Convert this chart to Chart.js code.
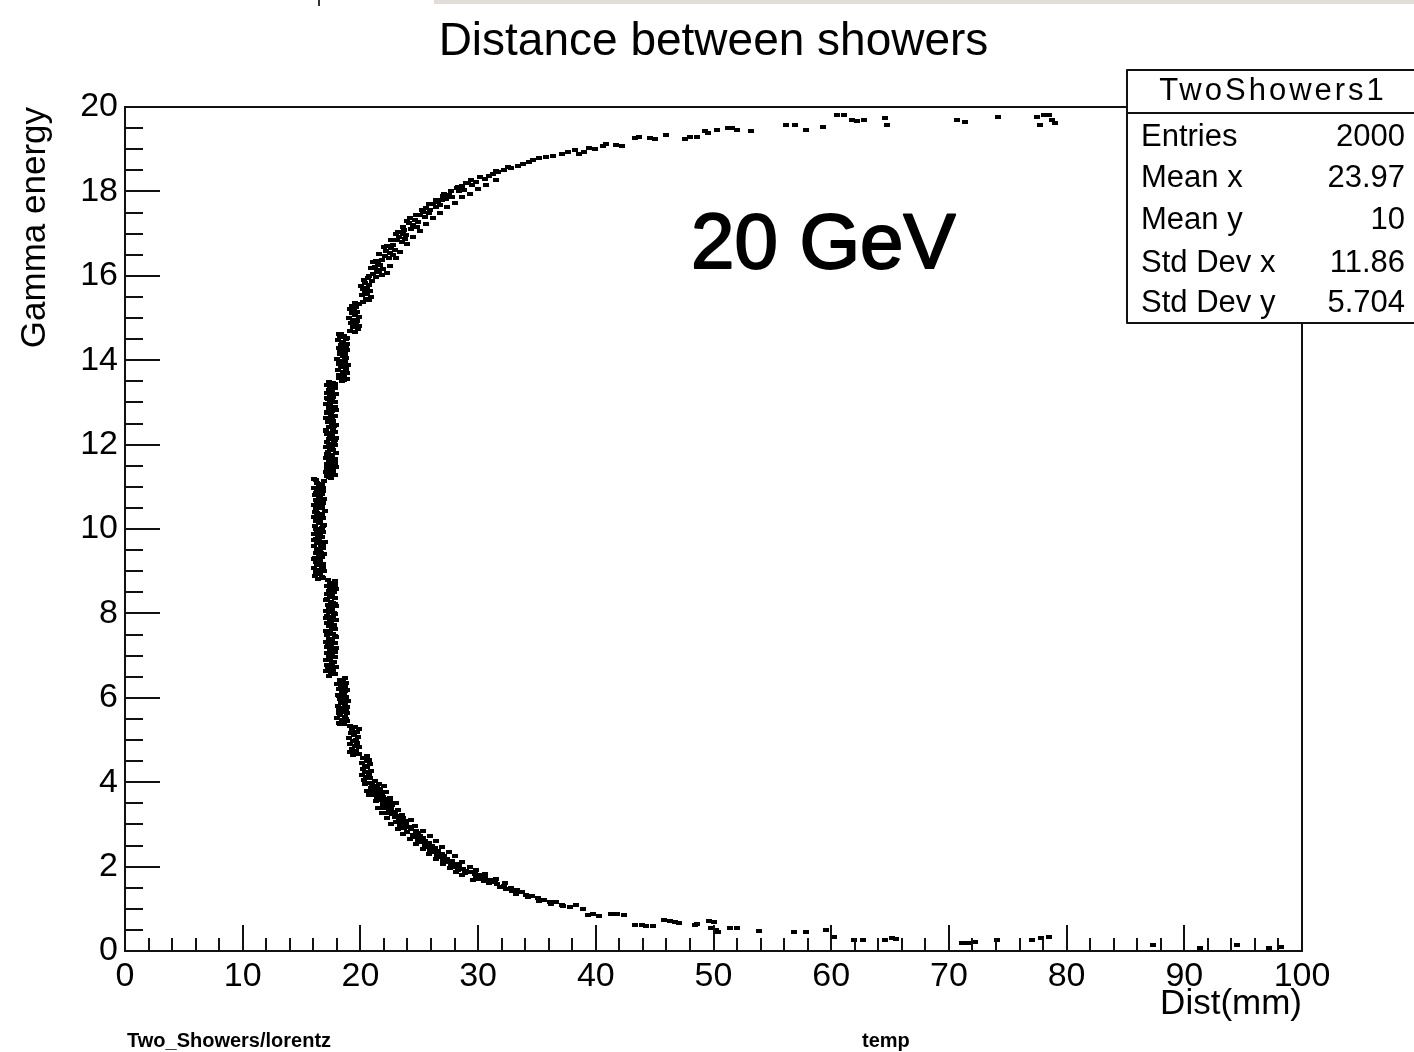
<!DOCTYPE html>
<html>
<head>
<meta charset="utf-8">
<title>Distance between showers</title>
<script src="https://cdn.jsdelivr.net/npm/chart.js@4.4.1/dist/chart.umd.min.js"></script>
<style>
  html, body { margin: 0; padding: 0; background: #ffffff; }
  canvas { display: block; }
</style>
</head>
<body>
<canvas id="chart" width="1414" height="1052"></canvas>
<script>
// Axis tick labels
const distTicks = [0, 10, 20, 30, 40, 50, 60, 70, 80, 90, 100];
const energyTicks = [0, 2, 4, 6, 8, 10, 12, 14, 16, 18, 20];

// Scatter entries [Dist(mm), Gamma energy], grouped along the curve
const lowerTail = [
  [37.2,1.06],[37.8,1.04],[38.3,1.08],[38.9,1.0],[39.3,0.86],[39.8,0.88],[40.3,0.84],[41.3,0.87],
  [41.8,0.88],[42.4,0.86],[43.3,0.61],[43.9,0.62],[44.3,0.6],[44.9,0.59],[45.8,0.73],[46.3,0.72],
  [46.7,0.69],[47.1,0.66],[48.4,0.62],[48.6,0.64],[49.6,0.7],[50.0,0.69],[49.8,0.55],[50.2,0.5],
  [50.4,0.46],[51.4,0.55],[52.0,0.55],[53.9,0.47],[56.8,0.44],[57.9,0.46],[59.6,0.5],[60.2,0.34],
  [61.9,0.27],[62.7,0.26],[64.6,0.27],[65.2,0.31],[65.5,0.28],[71.1,0.2],[71.6,0.2],[72.2,0.21],
  [74.1,0.26],[77.1,0.27],[77.8,0.31],[78.5,0.33],[87.3,0.14],[91.3,0.07],[94.5,0.14],[97.2,0.08],
  [98.2,0.09]
];

const lowerArm = [
  [21.2,4.02],[20.8,3.99],[21.6,3.96],[21.0,3.93],[21.4,3.9],[20.9,3.87],[21.7,3.84],[21.3,3.81],
  [21.1,3.78],[21.8,3.75],[21.5,3.72],[21.2,3.69],[21.9,3.66],[21.4,3.63],
  [22.1,3.6],[21.8,3.57],[22.5,3.54],[22.2,3.51],[21.9,3.48],[22.7,3.45],[22.3,3.42],[22.0,3.39],
  [22.6,3.36],[22.4,3.33],[22.9,3.3],[22.2,3.27],[22.7,3.24],
  [23.1,3.21],[22.9,3.18],[23.6,3.15],[23.3,3.12],[23.8,3.09],[23.0,3.06],[23.5,3.03],[23.9,3.0],
  [23.4,2.97],[24.1,2.94],[23.7,2.91],
  [24.3,2.88],[24.7,2.85],[24.0,2.82],[24.9,2.79],[24.5,2.76],[25.1,2.73],[24.6,2.7],[25.3,2.67],
  [24.9,2.64],[25.5,2.61],
  [25.2,2.58],[25.8,2.55],[25.5,2.52],[26.1,2.49],[25.7,2.46],[26.3,2.43],[25.9,2.4],[26.6,2.37],
  [26.2,2.34],[26.9,2.31],[26.5,2.28],[27.1,2.25],[26.7,2.22],
  [27.4,2.19],[27.0,2.16],[27.8,2.13],[27.5,2.1],[28.1,2.07],[27.7,2.04],[28.4,2.01],[28.0,1.98],
  [28.7,1.95],[28.3,1.92],[29.0,1.9],
  [29.3,1.87],[28.9,1.85],[29.7,1.82],[30.2,1.79],[29.8,1.77],[30.6,1.74],[30.1,1.71],[31.0,1.69],
  [30.5,1.66],[31.4,1.63],[30.9,1.61],
  [31.6,1.58],[32.2,1.55],[31.9,1.52],[32.8,1.49],[32.4,1.47],[33.3,1.44],[32.9,1.41],[33.7,1.39],
  [33.2,1.36],[34.1,1.33],
  [34.6,1.3],[34.2,1.27],[35.1,1.25],[35.6,1.22],[35.2,1.19],[36.1,1.17],[36.6,1.15],[36.2,1.12],
  [37.1,1.1]
];

// Entries on either side of the lower arm
const lowerArmFill = [
  [20.4,3.95],[22.0,3.92],[20.6,3.8],[22.2,3.77],[20.7,3.7],[22.5,3.62],[21.3,3.55],[23.0,3.5],
  [21.5,3.4],[23.2,3.35],[21.8,3.28],[23.5,3.22],[22.3,3.14],[24.3,3.1],[22.6,3.02],[24.6,2.97],
  [23.2,2.9],[25.3,2.84],[23.6,2.77],[25.9,2.72],[24.2,2.66],[26.4,2.6],[24.7,2.53],[26.9,2.47],
  [25.3,2.41],[27.5,2.35],[25.8,2.3],[28.0,2.24],[26.4,2.18],[28.6,2.12],[27.0,2.06],[29.3,2.0],
  [27.6,1.97],[29.8,1.91],[28.1,1.88],[30.6,1.83],[28.6,1.8],[31.5,1.7],[29.6,1.68],[32.3,1.6]
];

const coreBand = [
  [20.3,4.06],[20.8,4.09],[20.5,4.13],[20.1,4.16],[20.7,4.2],[20.4,4.24],[20.9,4.27],[20.2,4.31],
  [20.6,4.35],[20.35,4.38],[20.85,4.42],[20.15,4.46],[20.55,4.5],[20.75,4.53],[20.25,4.57],[20.6,4.61],
  [19.4,4.65],[19.85,4.68],[19.1,4.72],[19.6,4.75],[19.3,4.79],[19.9,4.83],[19.5,4.86],[19.15,4.9],
  [19.75,4.94],[19.35,4.97],[19.65,5.01],[19.05,5.05],[19.8,5.08],[19.45,5.12],[19.2,5.16],[19.7,5.19],
  [19.3,5.23],[19.9,5.27],[19.55,5.3],[19.1,5.33],
  [18.6,5.37],[18.2,5.41],[18.85,5.44],[18.4,5.48],[18.05,5.52],[18.7,5.55],[18.3,5.59],[18.9,5.63],
  [18.5,5.66],[18.15,5.7],[18.75,5.74],[18.45,5.77],[18.1,5.81],[18.65,5.85],[18.35,5.88],[18.95,5.92],
  [18.25,5.96],[18.55,5.99],[18.8,6.03],[18.1,6.07],[18.6,6.1],[18.4,6.14],[18.9,6.18],[18.2,6.21],
  [18.7,6.25],[18.35,6.29],[18.05,6.32],[18.8,6.36],[18.5,6.4],[18.25,6.43],[18.65,6.47],
  [17.3,6.52],[17.8,6.56],[17.5,6.6],[17.1,6.63],[17.65,6.67],[17.4,6.71],[17.9,6.74],[17.2,6.78],
  [17.55,6.82],[17.75,6.85],[17.05,6.89],[17.45,6.93],[17.85,6.96],[17.3,7.0],[17.6,7.04],[17.15,7.07],
  [17.7,7.11],[17.4,7.15],[17.95,7.18],[17.25,7.22],[17.5,7.26],[17.8,7.29],[17.1,7.33],[17.6,7.37],
  [17.35,7.4],[17.9,7.44],[17.2,7.48],[17.7,7.51],[17.45,7.55],[17.05,7.59],[17.85,7.62],[17.55,7.66],
  [17.3,7.7],[17.75,7.73],[17.15,7.77],[17.5,7.81],[17.9,7.84],[17.4,7.88],[17.65,7.92],[17.2,7.95],
  [17.8,7.99],[17.35,8.03],[17.05,8.06],[17.6,8.1],[17.45,8.14],[17.95,8.17],[17.25,8.21],[17.7,8.25],
  [17.5,8.28],[17.1,8.32],[17.85,8.36],[17.4,8.39],[17.6,8.43],[17.2,8.47],[17.75,8.5],[17.3,8.54],
  [17.9,8.58],[17.55,8.61],[17.15,8.65],[17.7,8.69],[17.4,8.72],[17.85,8.76],
  [16.4,8.82],[16.85,8.85],[16.15,8.89],[16.6,8.93],[16.3,8.96],[16.9,9.0],[16.5,9.04],[16.1,9.07],
  [16.7,9.11],[16.35,9.15],[16.8,9.18],[16.2,9.22],[16.55,9.26],[16.05,9.29],[16.75,9.33],[16.45,9.37],
  [16.9,9.4],[16.25,9.44],[16.6,9.48],[16.4,9.51],[16.85,9.55],[16.1,9.59],[16.65,9.62],[16.3,9.66],
  [16.95,9.7],[16.5,9.73],[16.2,9.77],[16.75,9.81],[16.4,9.84],[16.05,9.88],[16.8,9.92],[16.55,9.95],
  [16.25,9.99],[16.7,10.03],[16.15,10.06],[16.9,10.1],[16.45,10.14],[16.6,10.17],[16.3,10.21],[16.85,10.25],
  [16.1,10.28],[16.5,10.32],[16.75,10.36],[16.35,10.39],[16.95,10.43],[16.2,10.47],[16.65,10.5],[16.4,10.54],
  [16.05,10.58],[16.8,10.61],[16.55,10.65],[16.25,10.69],[16.9,10.72],[16.45,10.76],[16.15,10.8],[16.7,10.83],
  [16.35,10.87],[16.85,10.91],[16.6,10.94],[16.1,10.98],[16.5,11.02],[16.75,11.05],[16.3,11.09],[16.9,11.13],
  [16.2,11.16],
  [17.5,11.21],[17.15,11.25],[17.8,11.28],[17.4,11.32],[17.05,11.36],[17.7,11.39],[17.3,11.43],[17.9,11.47],
  [17.55,11.5],[17.2,11.54],[17.65,11.58],[17.35,11.61],[17.85,11.65],[17.1,11.69],[17.6,11.72],[17.45,11.76],
  [17.95,11.8],[17.25,11.83],[17.7,11.87],[17.4,11.91],[17.05,11.94],[17.8,11.98],[17.5,12.02],[17.15,12.05],
  [17.75,12.09],[17.3,12.13],[17.9,12.16],[17.6,12.2],[17.2,12.24],[17.45,12.27],[17.85,12.31],[17.1,12.35],
  [17.65,12.38],[17.35,12.42],[17.95,12.46],[17.55,12.49],[17.25,12.53],[17.7,12.57],[17.4,12.6],[17.05,12.64],
  [17.8,12.68],[17.5,12.71],[17.2,12.75],[17.6,12.79],[17.9,12.82],[17.3,12.86],[17.75,12.9],[17.45,12.93],
  [17.1,12.97],[17.85,13.01],[17.55,13.04],[17.25,13.08],[17.7,13.12],[17.4,13.15],[17.95,13.19],[17.15,13.23],
  [17.6,13.26],[17.35,13.3],[17.8,13.34],[17.5,13.37],[17.2,13.41],[17.65,13.45],[17.3,13.48],
  [18.4,13.51],[18.85,13.55],[18.15,13.59],[18.6,13.62],[18.3,13.66],[18.9,13.7],[18.5,13.73],[18.1,13.77],
  [18.75,13.81],[18.35,13.84],[18.95,13.88],[18.2,13.92],[18.65,13.95],[18.45,13.99],[18.05,14.03],[18.8,14.06],
  [18.55,14.1],[18.25,14.14],[18.7,14.17],[18.4,14.21],[18.9,14.25],[18.15,14.28],[18.6,14.32],[18.35,14.36],
  [18.85,14.39],[18.5,14.43],[18.1,14.47],[18.75,14.5],[18.3,14.54],[18.6,14.58],[18.2,14.61],
  [19.5,14.67],[19.15,14.7],[19.8,14.74],[19.35,14.78],[19.9,14.81],[19.6,14.85],[19.2,14.89],[19.7,14.92],
  [19.4,14.96],[19.05,15.0],[19.85,15.03],[19.55,15.07],[19.25,15.11],[19.75,15.14],[19.45,15.18],[19.1,15.22],
  [19.65,15.25],[19.3,15.29],[19.9,15.33],[19.5,15.36],
  [20.2,15.39],[20.7,15.43],[20.45,15.46],[20.9,15.5],[20.1,15.54],[20.6,15.57],[20.35,15.61],[20.8,15.65],
  [20.25,15.68],[20.55,15.72],[20.05,15.76],[20.75,15.79],[20.4,15.83],[20.95,15.87],[20.3,15.9],[20.65,15.94]
];

// Extra entries filling the densest stretch of the band
const coreFill = [
  [18.3,5.39],[18.75,5.5],[18.2,5.64],[18.85,5.79],[18.5,5.94],[18.15,6.05],[18.7,6.16],[18.3,6.34],
  [17.7,6.58],[17.25,6.69],[17.6,6.8],[17.35,6.98],[17.8,7.09],[17.15,7.2],[17.55,7.35],[17.85,7.46],
  [17.25,7.57],[17.65,7.68],[17.45,7.79],[17.1,7.9],[17.75,8.01],[17.3,8.12],[17.85,8.23],[17.2,8.34],
  [17.6,8.45],[17.4,8.56],[17.8,8.67],[17.25,8.78],
  [16.7,8.87],[16.25,8.98],[16.8,9.09],[16.4,9.2],[16.15,9.31],[16.65,9.42],[16.35,9.53],[16.8,9.64],
  [16.1,9.75],[16.6,9.86],[16.3,9.97],[16.85,10.08],[16.2,10.19],[16.55,10.3],[16.15,10.41],[16.75,10.52],
  [16.35,10.63],[16.6,10.74],[16.2,10.85],[16.8,10.96],[16.45,11.07],[16.1,11.18],
  [17.3,11.23],[17.65,11.34],[17.2,11.45],[17.8,11.56],[17.4,11.67],[17.15,11.78],[17.6,11.89],[17.3,12.0],
  [17.85,12.11],[17.45,12.22],[17.1,12.33],[17.75,12.44],[17.35,12.55],[17.6,12.66],[17.2,12.77],[17.8,12.88],
  [17.4,12.99],[17.15,13.1],[17.7,13.21],[17.45,13.32],[17.85,13.43],
  [18.6,13.53],[18.2,13.64],[18.8,13.75],[18.4,13.86],[18.15,13.97],[18.7,14.08],[18.3,14.19],[18.8,14.3],
  [18.45,14.41],[18.9,14.52],[18.35,14.63]
];

const upperArm = [
  [21.3,15.98],[21.8,16.01],[21.1,16.05],[21.6,16.09],[21.4,16.13],[21.9,16.17],[21.2,16.21],[21.7,16.25],
  [21.5,16.29],[21.05,16.33],[21.85,16.37],
  [22.4,16.42],[22.1,16.46],[22.8,16.5],[22.5,16.54],[22.2,16.58],[22.9,16.62],[22.6,16.66],[22.3,16.7],
  [22.75,16.74],
  [23.5,16.8],[23.1,16.84],[23.8,16.88],[23.3,16.92],[23.9,16.96],[23.6,17.0],[23.2,17.04],[23.7,17.08],
  [24.3,17.12],[24.8,17.16],[24.5,17.2],[24.1,17.24],[24.9,17.28],[24.6,17.32],[24.2,17.36],
  [25.5,17.4],[25.1,17.44],[25.8,17.48],[25.3,17.52],[25.9,17.56],[25.6,17.6],
  [26.4,17.63],[26.8,17.67],[26.2,17.71],[26.6,17.75],[26.9,17.79],
  [27.3,17.83],[27.8,17.87],[27.5,17.91],[27.1,17.95],
  [28.4,18.0],[28.8,18.04],[28.2,18.08],[28.6,18.12],
  [29.5,18.15],[29.1,18.19],[29.8,18.22],[29.4,18.26],
  [30.6,18.29],[30.2,18.33],[30.9,18.37],
  [31.3,18.41],[31.7,18.45],[31.5,18.48],
  [32.2,18.51],[32.8,18.55],[32.5,18.58],
  [33.4,18.61],[33.8,18.66],[34.3,18.7],[34.7,18.74],[35.2,18.78],[35.8,18.82],
  [36.4,18.85],[37.1,18.89],[37.6,18.94],[38.2,18.98]
];

// Entries on either side of the upper arm
const upperArmFill = [
  [20.7,16.0],[22.3,16.06],[20.9,16.18],[22.5,16.24],[21.3,16.36],[23.0,16.41],[21.6,16.52],[23.4,16.57],
  [22.0,16.68],[24.0,16.76],[22.6,16.86],[24.5,16.93],[23.0,17.0],[25.1,17.07],[23.6,17.15],[25.6,17.22],
  [24.0,17.3],[26.2,17.36],[24.7,17.44],[26.8,17.5],[25.2,17.57],[27.4,17.62],[25.8,17.69],[28.0,17.73],
  [26.4,17.8],[28.6,17.86],[27.0,17.9],[29.3,17.95],[27.7,18.0],[30.0,18.06],[28.3,18.1],[30.7,18.16],
  [29.0,18.2],[31.5,18.26]
];

const upperTail = [
  [38.6,18.88],[39.0,18.93],[39.4,19.02],[39.9,19.0],[40.6,19.08],[40.9,19.12],[41.7,19.1],[42.2,19.08],
  [43.3,19.27],[43.7,19.3],[44.6,19.26],[45.0,19.24],[46.0,19.34],[47.6,19.25],[48.0,19.28],[48.6,19.3],
  [49.3,19.42],[49.5,19.38],[50.3,19.46],[51.2,19.51],[51.6,19.5],[52.0,19.46],[53.2,19.42],[56.2,19.57],
  [56.9,19.57],[57.9,19.46],[59.3,19.53],[60.5,19.81],[61.1,19.8],[61.8,19.69],[62.2,19.67],[62.8,19.7],
  [64.6,19.74],[64.7,19.58],[70.7,19.69],[71.4,19.65],[74.2,19.77],[77.5,19.77],[78.1,19.81],[78.5,19.8],
  [78.8,19.69],[77.7,19.57],[79.0,19.62]
];

// Statistics box
const statsTitle = 'TwoShowers1';
const statsLabels = ['Entries', 'Mean x', 'Mean y', 'Std Dev x', 'Std Dev y'];
const statsValues = ['2000', '23.97', '10', '11.86', '5.704'];

const FONT = "'Liberation Sans', Arial, Helvetica, sans-serif";
const INK = '#111111';

// Small block used as the scatter marker
const marker = document.createElement('canvas');
marker.width = 6;
marker.height = 4;
(function () {
  const m = marker.getContext('2d');
  m.fillStyle = '#000000';
  m.fillRect(0, 0, 6, 4);
})();

const entries = [
  ...lowerTail, ...lowerArm, ...lowerArmFill, ...coreBand, ...coreFill,
  ...upperArm, ...upperArmFill, ...upperTail
].map(([x, y]) => ({ x, y }));

// Frame, inside tick marks, annotations and stats box
const decorations = {
  id: 'decorations',
  beforeDraw(chart) {
    const c = chart.ctx;
    c.save();
    c.fillStyle = '#ffffff';
    c.fillRect(0, 0, chart.width, chart.height);
    c.fillStyle = '#e1ded8';
    c.fillRect(434, 0, chart.width - 434, 4);
    c.fillStyle = '#333333';
    c.fillRect(318, 0, 2, 6);
    c.restore();
  },
  afterDraw(chart) {
    const c = chart.ctx;
    const { left, right, top, bottom } = chart.chartArea;
    const xs = chart.scales.x;
    const ys = chart.scales.y;
    c.save();
    c.strokeStyle = INK;
    c.lineWidth = 2;
    c.strokeRect(left, top, right - left, bottom - top);

    // x ticks: major every 10, minor every 2
    c.beginPath();
    for (let v = 0; v <= 100; v += 2) {
      const px = Math.round(xs.getPixelForValue(v));
      const len = distTicks.includes(v) ? 26 : 13;
      c.moveTo(px, bottom);
      c.lineTo(px, bottom - len);
    }
    // y ticks: major every 2, minor every 0.5
    for (let v = 0; v <= 20; v += 0.5) {
      const py = Math.round(ys.getPixelForValue(v));
      const len = energyTicks.includes(v) ? 35 : 18;
      c.moveTo(left, py);
      c.lineTo(left + len, py);
    }
    c.stroke();

    // Title
    c.fillStyle = '#000000';
    c.font = `46px ${FONT}`;
    c.textAlign = 'center';
    c.textBaseline = 'alphabetic';
    c.fillText('Distance between showers', (left + right) / 2, 55);

    // Energy annotation
    c.font = `78px ${FONT}`;
    c.textAlign = 'left';
    c.strokeStyle = '#000000';
    c.lineWidth = 2;
    c.lineJoin = 'round';
    c.fillText('20 GeV', 691, 268);
    c.strokeText('20 GeV', 691, 268);

    // Footer labels
    c.font = `bold 20px ${FONT}`;
    c.fillText('Two_Showers/lorentz', 127, 1047);
    c.fillText('temp', 862, 1047);

    // Stats box
    const bx = 1127, by = 70, bw = chart.width - bx + 4, bh = 253;
    c.fillStyle = '#ffffff';
    c.fillRect(bx, by, bw, bh);
    c.strokeStyle = INK;
    c.lineWidth = 2;
    c.strokeRect(bx, by, bw, bh);
    c.beginPath();
    c.moveTo(bx, 113);
    c.lineTo(bx + bw, 113);
    c.stroke();

    c.fillStyle = '#000000';
    c.textBaseline = 'middle';
    c.font = `31px ${FONT}`;
    c.textAlign = 'center';
    if ('letterSpacing' in c) c.letterSpacing = '3px';
    c.fillText(statsTitle, 1273, 91);
    if ('letterSpacing' in c) c.letterSpacing = '0px';
    const rowY = [137, 178, 220, 263, 303];
    statsLabels.forEach((lab, i) => {
      c.textAlign = 'left';
      c.fillText(lab, 1141, rowY[i]);
      c.textAlign = 'right';
      c.fillText(statsValues[i], 1405, rowY[i]);
    });
    c.restore();
  }
};

new Chart(document.getElementById('chart'), {
  type: 'scatter',
  data: {
    datasets: [{
      data: entries,
      pointStyle: marker,
      pointRadius: 2,
      pointHoverRadius: 2,
      backgroundColor: '#000000',
      borderWidth: 0
    }]
  },
  options: {
    responsive: false,
    animation: false,
    events: [],
    layout: { padding: { top: 107, right: 112, left: 0, bottom: 0 } },
    plugins: {
      legend: { display: false },
      tooltip: { enabled: false },
      title: { display: false }
    },
    scales: {
      x: {
        type: 'linear',
        min: 0,
        max: 100,
        afterBuildTicks: (s) => { s.ticks = distTicks.map((v) => ({ value: v })); },
        afterFit: (s) => { s.height = 101; },
        grid: { display: false, drawTicks: false },
        border: { display: false },
        ticks: {
          color: '#000000',
          font: { family: FONT, size: 34 },
          padding: 5,
          maxRotation: 0,
          autoSkip: false
        },
        title: {
          display: true,
          text: 'Dist(mm)',
          align: 'end',
          color: '#000000',
          font: { family: FONT, size: 35, lineHeight: 1.2 },
          padding: { top: 0, bottom: 27 }
        }
      },
      y: {
        type: 'linear',
        min: 0,
        max: 20,
        afterBuildTicks: (s) => { s.ticks = energyTicks.map((v) => ({ value: v })); },
        afterFit: (s) => { s.width = 125; },
        grid: { display: false, drawTicks: false },
        border: { display: false },
        ticks: {
          color: '#000000',
          font: { family: FONT, size: 34 },
          padding: 7,
          autoSkip: false
        },
        title: {
          display: true,
          text: 'Gamma energy',
          align: 'end',
          color: '#000000',
          font: { family: FONT, size: 35, lineHeight: 1.2 },
          padding: { top: 14, bottom: 0 }
        }
      }
    }
  },
  plugins: [decorations]
});
</script>
</body>
</html>
